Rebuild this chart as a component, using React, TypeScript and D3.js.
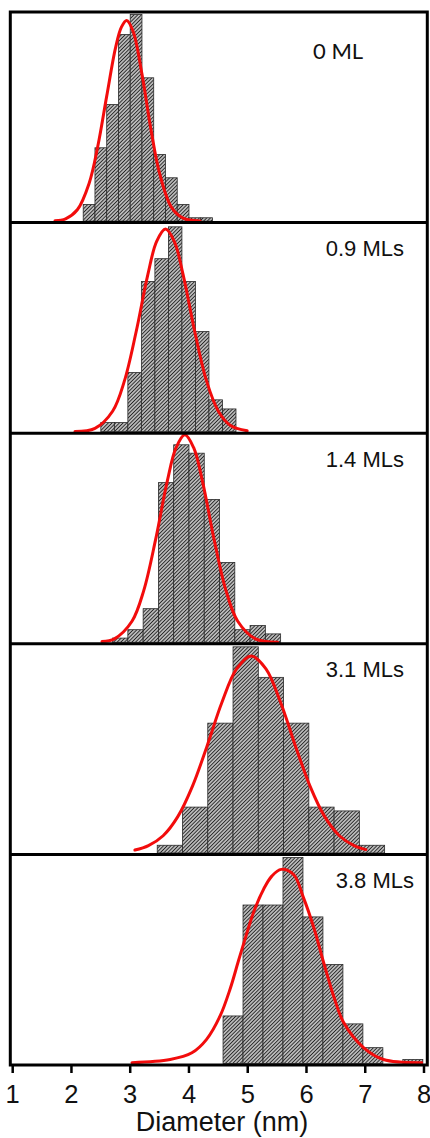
import React from "react";
import * as d3 from "d3";

// ---------- data ----------
const X_TICKS = [1, 2, 3, 4, 5, 6, 7, 8];
const PANEL_LABELS = ["0 ML", "0.9 MLs", "1.4 MLs", "3.1 MLs", "3.8 MLs"];

// histogram bins: first bin start (nm) and bin width (nm) per panel
const BIN_START = [2.2, 2.5, 2.7, 3.46, 4.58];
const BIN_WIDTH = [0.2, 0.23, 0.26, 0.43, 0.34];

// counts per bin
const COUNTS_0ML = [5, 22, 35, 56, 62, 43, 20, 13, 5, 1, 1];
const COUNTS_09ML = [2, 2, 13, 33, 38, 45, 33, 22, 7, 5];
const COUNTS_14ML = [1, 3, 8, 38, 47, 45, 34, 19, 3, 4, 2];
const COUNTS_31ML = [2, 12, 34, 54, 46, 34, 12, 11, 2];
const COUNTS_38ML = [12, 40, 40, 52, 37, 25, 10, 4, 0, 1];

// y-axis maximum (counts) per panel
const Y_MAX = [62.3, 45.6, 49.4, 54.4, 52.4];

// fitted curves, points: [diameter nm, counts]
const FIT_0ML: [number, number][] = [
  [1.72, 0.1], [1.9, 0.7], [2.1, 3.4], [2.3, 11.3], [2.45, 22.6], [2.6, 37.5],
  [2.75, 52], [2.85, 58.2], [2.94, 60.2], [3.05, 56.9], [3.2, 44.1], [3.35, 27.8],
  [3.5, 14.3], [3.7, 4.2], [3.9, 0.9], [4.19, 0.05],
];
const FIT_09ML: [number, number][] = [
  [2.06, 0.05], [2.4, 0.75], [2.7, 4.5], [2.9, 11.1], [3.1, 21.9], [3.3, 34.5],
  [3.45, 41.8], [3.6, 44.5], [3.75, 41.8], [3.9, 34.5], [4.1, 21.9], [4.3, 11.1],
  [4.5, 4.5], [4.7, 1.44], [4.99, 0.19],
];
const FIT_14ML: [number, number][] = [
  [2.52, 0.18], [2.73, 0.83], [3.03, 5.0], [3.23, 12.3], [3.43, 24.3], [3.63, 38.3],
  [3.78, 46.3], [3.93, 49.4], [4.08, 46.3], [4.23, 38.3], [4.43, 24.3], [4.63, 12.3],
  [4.83, 5.0], [5.13, 0.83], [5.51, 0.04],
];
const FIT_31ML: [number, number][] = [
  [3.08, 0.74], [3.31, 1.9], [3.56, 4.5], [3.81, 9.5], [4.06, 17.5], [4.31, 28.1],
  [4.56, 39.4], [4.81, 48.2], [5.06, 51.6], [5.31, 48.2], [5.56, 39.4], [5.81, 28.1],
  [6.06, 17.5], [6.31, 9.5], [6.56, 4.5], [6.81, 1.9], [7.01, 0.85],
];
const FIT_38ML: [number, number][] = [
  [3.03, 0.2], [3.68, 1.0], [4.05, 2.7], [4.3, 6.1], [4.53, 12.0], [4.7, 18.8],
  [4.84, 25.8], [4.95, 31.2], [5.1, 38.2], [5.27, 44.0], [5.41, 47.3], [5.57, 49.0],
  [5.78, 47.7], [5.95, 41.8], [6.12, 34.5], [6.29, 25.6], [6.46, 17.1], [6.63, 10.4],
  [6.97, 4.0], [7.31, 1.0], [7.96, 0.2],
];

const COUNTS = [COUNTS_0ML, COUNTS_09ML, COUNTS_14ML, COUNTS_31ML, COUNTS_38ML];
const FITS = [FIT_0ML, FIT_09ML, FIT_14ML, FIT_31ML, FIT_38ML];

// ---------- layout ----------
const W = 430;
const H = 1138;
const FRAME_L = 10.3;
const FRAME_R = 427.3;
const FRAME_T = 12;
const FRAME_B = 1065;
const ARIAL = "'Liberation Sans', Arial, sans-serif";

export default function App() {
  const x = d3.scaleLinear().domain([1, 8]).range([12.7, 424]);
  const band = d3
    .scaleBand<number>()
    .domain(d3.range(PANEL_LABELS.length))
    .range([FRAME_T, FRAME_B])
    .padding(0);

  const panels = PANEL_LABELS.map((label, i) => {
    const top = band(i)!;
    const bottom = top + band.bandwidth();
    const y = d3.scaleLinear().domain([0, Y_MAX[i]]).range([bottom - 1.5, top + 1.5]);
    const bars = COUNTS[i].map((c, j) => {
      const x0 = x(BIN_START[i] + j * BIN_WIDTH[i]);
      const x1 = x(BIN_START[i] + (j + 1) * BIN_WIDTH[i]);
      return { x0, x1, y0: y(0), y1: y(c), c };
    });
    const line = d3
      .line<[number, number]>()
      .x((d) => x(d[0]))
      .y((d) => Math.min(y(0), y(d[1])))
      .curve(d3.curveCatmullRom.alpha(0.5));
    return { label, top, bottom, bars, path: line(FITS[i]) || "" };
  });

  return (
    <svg
      width={W}
      height={H}
      viewBox={`0 0 ${W} ${H}`}
      style={{ position: "absolute", left: 0, top: 0, background: "#fff" }}
    >
      <defs>
        <pattern
          id="hatch"
          patternUnits="userSpaceOnUse"
          width={2.6}
          height={2.6}
          patternTransform="rotate(45)"
        >
          <rect width={2.6} height={2.6} fill="#dcdcdc" />
          <line x1={1.3} y1={0} x2={1.3} y2={2.6} stroke="#262626" strokeWidth={1.2} />
        </pattern>
      </defs>
      <rect x={0} y={0} width={W} height={H} fill="#fff" />

      {panels.map((p, i) => (
        <g key={i}>
          {p.bars
            .filter((b) => b.c > 0)
            .map((b, j) => (
              <rect
                key={j}
                x={b.x0}
                y={b.y1}
                width={b.x1 - b.x0}
                height={b.y0 - b.y1}
                fill="url(#hatch)"
                stroke="#2a2a2a"
                strokeWidth={0.8}
              />
            ))}
          <path d={p.path} fill="none" stroke="#f20c0c" strokeWidth={3} strokeLinejoin="round" strokeLinecap="round" />
          {i === 0 ? (
            <text
              x={313}
              y={59}
              fontFamily="Lato, 'Open Sans', sans-serif"
              fontSize={22}
              fill="#111"
            >
              {p.label}
            </text>
          ) : (
            <text
              x={i === 4 ? 414 : 404}
              y={p.top + 33.5}
              textAnchor="end"
              fontFamily={ARIAL}
              fontSize={22}
              fill="#111"
            >
              {p.label}
            </text>
          )}
        </g>
      ))}

      {/* panel separators */}
      {panels.slice(1).map((p, i) => (
        <line key={i} x1={FRAME_L} x2={FRAME_R} y1={p.top} y2={p.top} stroke="#000" strokeWidth={3} />
      ))}
      {/* outer frame */}
      <rect
        x={FRAME_L}
        y={FRAME_T}
        width={FRAME_R - FRAME_L}
        height={FRAME_B - FRAME_T}
        fill="none"
        stroke="#000"
        strokeWidth={3}
      />

      {/* x axis ticks and labels */}
      {X_TICKS.map((t) => (
        <g key={t}>
          <line x1={x(t)} x2={x(t)} y1={FRAME_B} y2={FRAME_B + 8} stroke="#000" strokeWidth={2.5} />
          <text
            x={x(t)}
            y={1103}
            textAnchor="middle"
            fontFamily={ARIAL}
            fontSize={25.5}
            fill="#111"
          >
            {t}
          </text>
        </g>
      ))}
      <text
        x={222}
        y={1131}
        textAnchor="middle"
        fontFamily={ARIAL}
        fontSize={27}
        fill="#111"
      >
        Diameter (nm)
      </text>
    </svg>
  );
}
